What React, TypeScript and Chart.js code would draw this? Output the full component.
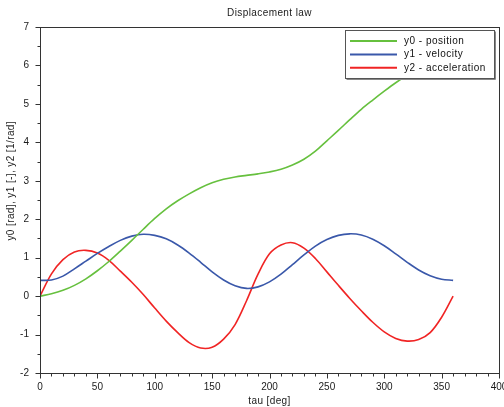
import React, { useEffect, useRef } from "react";
import { Chart, registerables } from "chart.js";

Chart.register(...registerables);

// ---- data ----
const tauDeg = [0, 10, 20, 30, 40, 50, 60, 70, 80, 90, 100, 110, 120, 130, 140, 150, 160, 170, 180,
  190, 200, 210, 220, 230, 240, 250, 260, 270, 280, 290, 300, 310, 320, 330, 340, 350, 360];

const position = [0.00, 0.06, 0.15, 0.28, 0.45, 0.66, 0.90, 1.17, 1.45, 1.74, 2.02, 2.27, 2.48, 2.66,
  2.82, 2.95, 3.04, 3.10, 3.14, 3.18, 3.23, 3.30, 3.41, 3.56, 3.77, 4.04, 4.31, 4.59, 4.86, 5.10,
  5.33, 5.55, 5.75, 5.92, 6.07, 6.19, 6.28];

const velocity = [0.41, 0.42, 0.52, 0.71, 0.91, 1.11, 1.29, 1.45, 1.56, 1.61, 1.58, 1.49, 1.33, 1.12,
  0.88, 0.63, 0.42, 0.27, 0.20, 0.24, 0.37, 0.57, 0.82, 1.07, 1.30, 1.47, 1.58, 1.62, 1.59, 1.48,
  1.31, 1.10, 0.88, 0.68, 0.53, 0.44, 0.41];

const acceleration = [0.00, 0.58, 0.95, 1.15, 1.19, 1.12, 0.93, 0.65, 0.36, 0.04, -0.31, -0.65, -0.95,
  -1.21, -1.35, -1.33, -1.12, -0.74, -0.12, 0.57, 1.10, 1.33, 1.39, 1.25, 0.98, 0.63, 0.28, -0.06,
  -0.38, -0.68, -0.93, -1.10, -1.17, -1.13, -0.95, -0.55, 0.00];

const seriesNames = ["y0 - position", "y1 - velocity", "y2 - acceleration"];
const seriesColors = ["#66c03e", "#3a58aa", "#f02424"];

const chartTitle = "Displacement law";
const xTitle = "tau [deg]";
const yTitle = "y0 [rad], y1 [-], y2 [1/rad]";

const xMin = 0, xMax = 400, xMajor = 50, xMinor = 10;
const yMin = -2, yMax = 7, yMajor = 1, yMinor = 0.5;

const FONT = "'Liberation Sans', Arial, sans-serif";
const TEXT = "#1a1a1a";

const decorPlugin = {
  id: "decor",
  afterDraw(chart: any) {
    const { ctx, chartArea: a, scales } = chart;
    const xs = scales.x, ys = scales.y;
    const L = Math.round(a.left) + 0.5, R = Math.round(a.right) + 0.5;
    const T = Math.round(a.top) + 0.5, B = Math.round(a.bottom) + 0.5;
    ctx.save();
    // frame
    ctx.strokeStyle = "#333";
    ctx.lineWidth = 1;
    ctx.strokeRect(L, T, R - L, B - T);
    // ticks
    ctx.beginPath();
    for (let v = xMin; v <= xMax + 1e-9; v += xMinor) {
      const px = Math.round(xs.getPixelForValue(v)) + 0.5;
      const len = Math.abs(v % xMajor) < 1e-9 ? 5 : 3;
      ctx.moveTo(px, B);
      ctx.lineTo(px, B + len);
    }
    for (let v = yMin; v <= yMax + 1e-9; v += yMinor) {
      const py = Math.round(ys.getPixelForValue(v)) + 0.5;
      const len = Math.abs((v - yMin) % yMajor) < 1e-9 ? 5 : 3;
      ctx.moveTo(L, py);
      ctx.lineTo(L - len, py);
    }
    ctx.stroke();

    // titles
    ctx.fillStyle = TEXT;
    ctx.font = `10px ${FONT}`;
    (ctx as any).letterSpacing = "0.4px";
    ctx.textAlign = "center";
    ctx.textBaseline = "middle";
    ctx.fillText(chartTitle, (a.left + a.right) / 2, 13);
    ctx.fillText(xTitle, (a.left + a.right) / 2, 401);
    ctx.save();
    ctx.translate(11, ys.getPixelForValue(3));
    ctx.rotate(-Math.PI / 2);
    ctx.fillText(yTitle, 0, 0);
    ctx.restore();

    // legend box
    const bx = a.right - 154, by = a.top + 3, bw = 149, bh = 48;
    ctx.fillStyle = "#ffffff";
    ctx.fillRect(bx, by, bw, bh);
    ctx.strokeStyle = "#555";
    ctx.lineWidth = 1;
    ctx.strokeRect(Math.round(bx) + 0.5, Math.round(by) + 0.5, bw, bh);
    ctx.strokeStyle = "#888";
    ctx.beginPath();
    ctx.moveTo(Math.round(bx) + 1.5, Math.round(by + bh) + 1.5);
    ctx.lineTo(Math.round(bx + bw) + 1.5, Math.round(by + bh) + 1.5);
    ctx.lineTo(Math.round(bx + bw) + 1.5, Math.round(by) + 1.5);
    ctx.stroke();
    ctx.textAlign = "left";
    ctx.font = `10px ${FONT}`;
    (ctx as any).letterSpacing = "0.5px";
    seriesNames.forEach((name, i) => {
      const ry = by + 11 + i * 13.4;
      ctx.strokeStyle = seriesColors[i];
      ctx.lineWidth = 2;
      ctx.beginPath();
      ctx.moveTo(bx + 5, ry);
      ctx.lineTo(bx + 52, ry);
      ctx.stroke();
      ctx.fillStyle = "#111";
      ctx.fillText(name, bx + 59, ry);
    });
    ctx.restore();
  },
};

export default function App() {
  const ref = useRef<HTMLCanvasElement | null>(null);

  useEffect(() => {
    document.body.style.margin = "0";
    const canvas = ref.current;
    if (!canvas) return;
    const series = [position, velocity, acceleration];
    const chart = new Chart(canvas, {
      type: "line",
      data: {
        datasets: series.map((vals, i) => ({
          label: seriesNames[i],
          data: tauDeg.map((t, k) => ({ x: t, y: vals[k] })),
          borderColor: seriesColors[i],
          backgroundColor: seriesColors[i],
          borderWidth: 1.6,
          pointRadius: 0,
          tension: 0.35,
          fill: false,
        })),
      },
      options: {
        responsive: false,
        animation: false,
        events: [],
        layout: { padding: { top: 27, right: 5, left: 0, bottom: 0 } },
        plugins: {
          legend: { display: false },
          title: { display: false },
          tooltip: { enabled: false },
        },
        scales: {
          x: {
            type: "linear",
            min: xMin,
            max: xMax,
            grid: { display: false, drawTicks: false },
            border: { display: false },
            ticks: {
              stepSize: xMajor,
              color: TEXT,
              font: { family: FONT, size: 10 },
              padding: 8,
              maxRotation: 0,
            },
            afterFit: (s: any) => {
              s.height = 34;
              s.paddingLeft = 0;
              s.paddingRight = 0;
            },
          },
          y: {
            type: "linear",
            min: yMin,
            max: yMax,
            grid: { display: false, drawTicks: false },
            border: { display: false },
            ticks: {
              stepSize: yMajor,
              color: TEXT,
              font: { family: FONT, size: 10 },
              padding: 11,
            },
            afterFit: (s: any) => {
              s.width = 40;
              s.paddingTop = 0;
              s.paddingBottom = 0;
            },
          },
        },
      },
      plugins: [decorPlugin],
    });
    return () => chart.destroy();
  }, []);

  return (
    <div style={{ width: 504, height: 407, background: "#fff" }}>
      <canvas ref={ref} width={504} height={407} style={{ display: "block" }} />
    </div>
  );
}
